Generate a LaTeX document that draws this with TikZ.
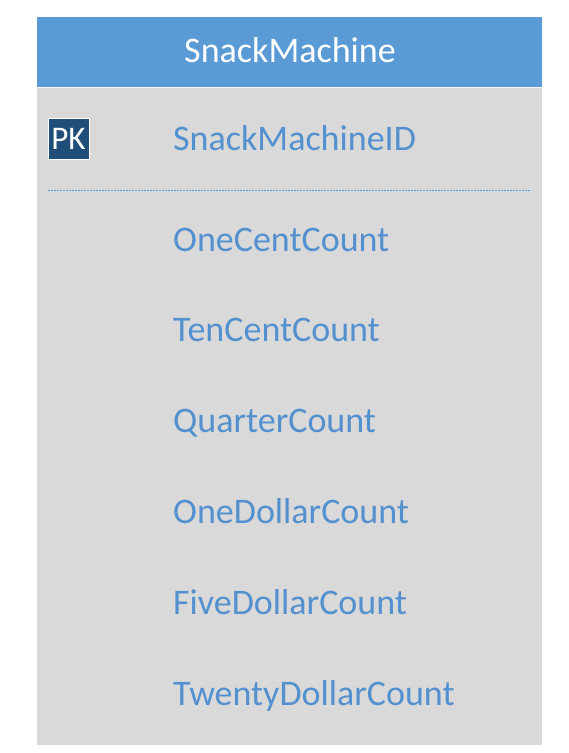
\documentclass[tikz,border=0pt]{standalone}
\usepackage{fontspec}
\setmainfont{Carlito}
\definecolor{hdrblue}{HTML}{5B9BD5}
\definecolor{bodygray}{HTML}{D9D9D9}
\definecolor{fieldblue}{HTML}{5390CF}
\definecolor{pkblue}{HTML}{1F4E79}
\begin{document}
\begin{tikzpicture}[x=1pt,y=-1pt,
  field/.style={anchor=base west,inner sep=0pt,text=fieldblue,font=\fontsize{36}{40}\selectfont},
  title/.style={anchor=base,inner sep=0pt,text=white,font=\fontsize{36}{40}\selectfont},
  pkbox/.style={draw=white,line width=1pt,fill=pkblue,text=white,minimum width=41pt,minimum height=41pt,inner sep=0pt,font=\fontsize{33}{36}\selectfont}]
\useasboundingbox (0,0) rectangle (569,753);
\fill[white] (0,0) rectangle (569,753);
% body and header
\fill[bodygray] (37,87) rectangle (542,745);
\fill[hdrblue] (37,17) rectangle (542,87);
\draw[white!85!bodygray,line width=1.5pt] (37,87.5) -- (542,87.5);
\node[title] (title) at (290,62) {SnackMachine};
% primary key
\node[pkbox] (pk) at (68.5,138.5) {PK};
\node[field] (id) at (173,150) {SnackMachineID};
\coordinate (dl) at (48,190);
\coordinate (dr) at (530,190);
\draw[hdrblue,line width=1pt,dash pattern=on 2pt off 1pt] (dl) -- (dr);
% fields
\node[field] (f1) at (173,251) {OneCentCount};
\node[field] (f2) at (173,341.8) {TenCentCount};
\node[field] (f3) at (173,432.6) {QuarterCount};
\node[field] (f4) at (173,523.4) {OneDollarCount};
\node[field] (f5) at (173,614.2) {FiveDollarCount};
\node[field] (f6) at (173,705) {TwentyDollarCount};
\end{tikzpicture}
\end{document}
